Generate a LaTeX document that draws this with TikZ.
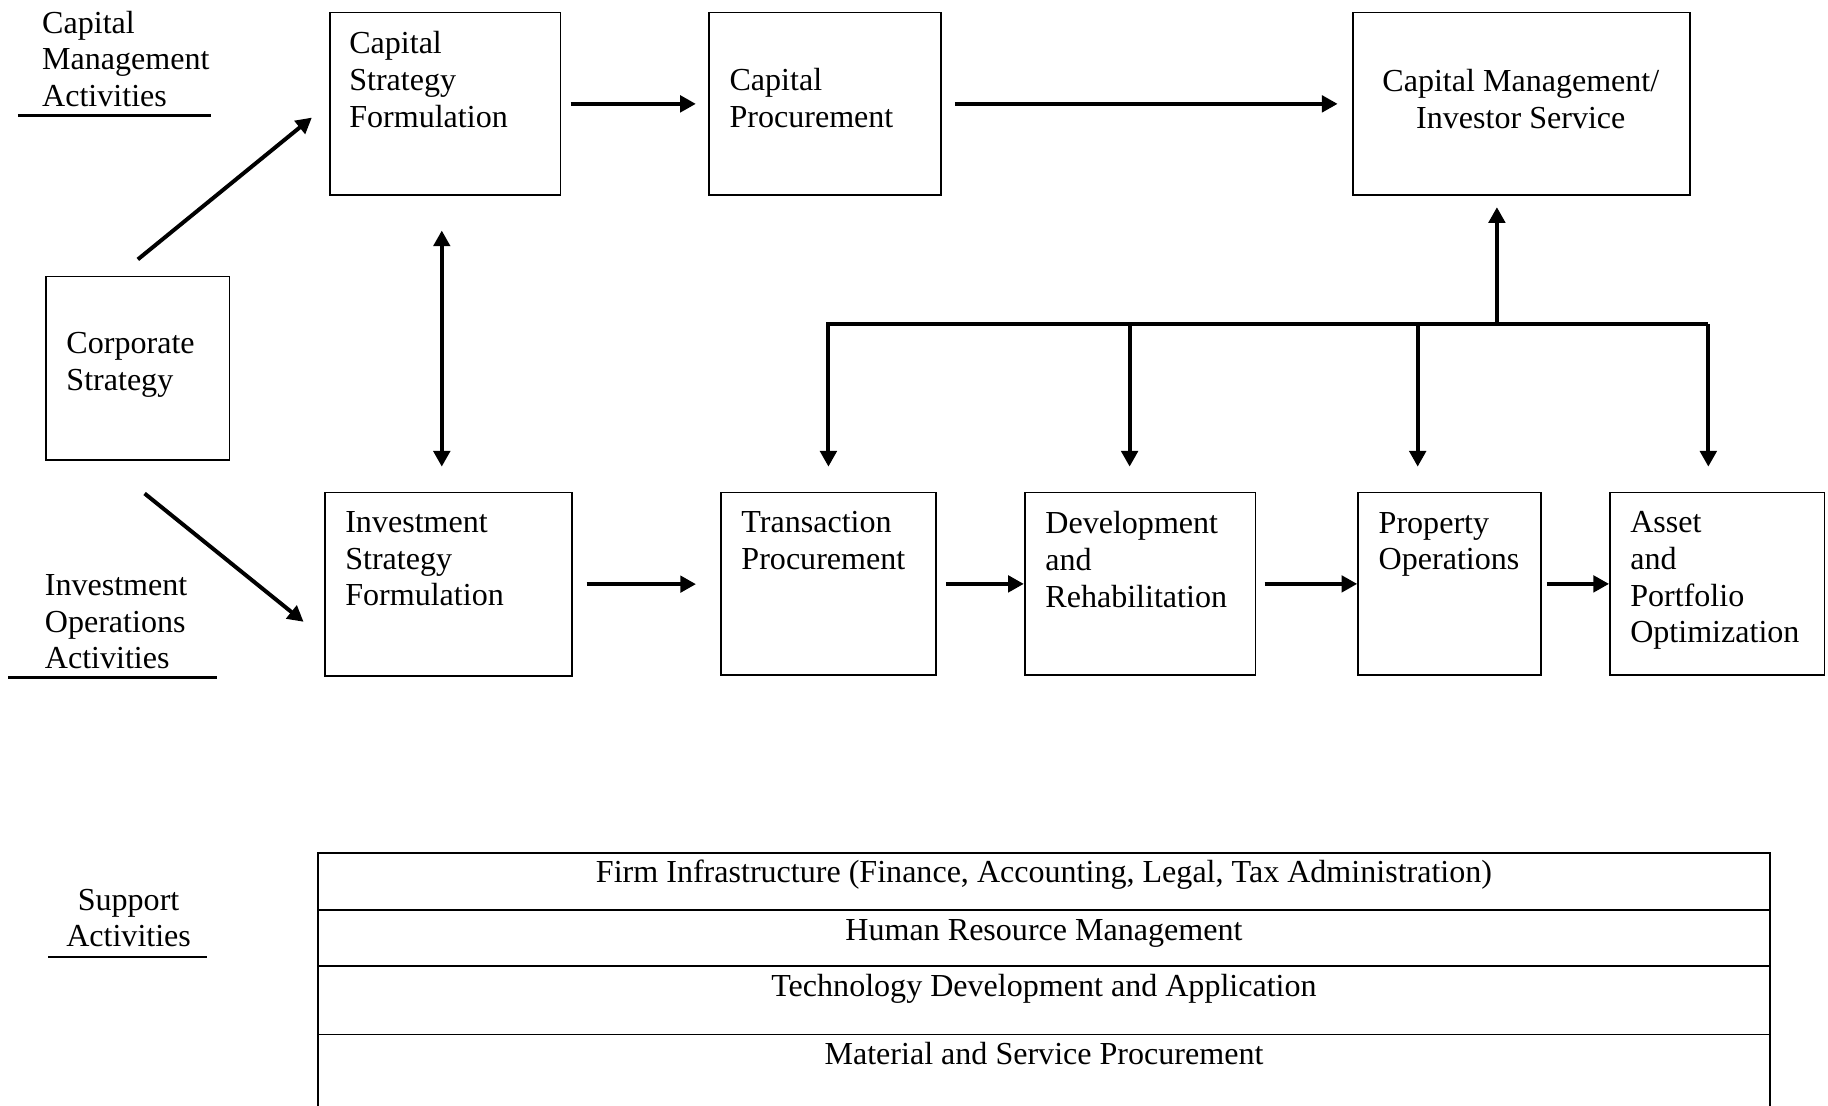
\documentclass[tikz,border=0pt]{standalone}
\usepackage{fontspec}
\setmainfont{Liberation Serif}
\usetikzlibrary{arrows.meta}
\begin{document}
\begin{tikzpicture}[x=1pt,y=-1pt,
  every node/.style={font=\fontsize{27.5}{31.5}\selectfont},
  box/.style={draw, line width=1.5pt, inner sep=0pt, anchor=north west},
  txt/.style={inner sep=0pt, align=left, anchor=north west, yshift=-2.5pt,
              execute at begin node={\rule{0pt}{20pt}}},
  ctxt/.style={txt, align=center, anchor=north},
  row/.style={draw, line width=1.7pt, inner sep=0pt, anchor=north west,
              minimum width=1244.7pt, text height=25.5pt},
  flow/.style={line width=3.4pt, -{Triangle[length=13.5pt,width=14pt]}},
  dflow/.style={line width=3.4pt,
              {Triangle[length=13.5pt,width=14pt]}-{Triangle[length=13.5pt,width=14pt]}},
  rulebar/.style={line width=2.2pt}]

% page frame
\useasboundingbox (0,0) rectangle (1568,948);
\fill[white] (0,0) rectangle (1568,948);
\clip (0,0) rectangle (1568,948);

% section captions
\node[txt] (capcap) at (36,6.6) {Capital\\Management\\Activities};
\draw[rulebar] (15.4,99.2) -- (181.2,99.2);
\node[txt] (invcap) at (38.3,490) {Investment\\Operations\\Activities};
\draw[rulebar] (6.9,581.3) -- (186.5,581.3);
\node[ctxt] (supcap) at (110.3,759.7) {Support\\Activities};
\draw[rulebar] (41.4,821) -- (177.7,821);

% capital management row
\node[box, minimum width=198pt, minimum height=156.7pt] (csf) at (282,10) {};
\node[txt] (csf-t) at (299.4,24.3) {Capital\\Strategy\\Formulation};
\node[box, minimum width=198.6pt, minimum height=156.7pt] (cp) at (607.7,10) {};
\node[txt] (cp-t) at (625.6,55.8) {Capital\\Procurement};
\node[box, minimum width=289pt, minimum height=156.7pt] (cmis) at (1160,10) {};
\node[ctxt] (cmis-t) at (1304.5,56.6) {Capital Management/\\Investor Service};

% corporate strategy
\node[box, minimum width=157pt, minimum height=157.2pt] (corp) at (39,236.5) {};
\node[txt] (corp-t) at (56.8,282.5) {Corporate\\Strategy};

% investment operations row
\node[box, minimum width=212pt, minimum height=157pt] (isf) at (278,421.8) {};
\node[txt] (isf-t) at (296,436) {Investment\\Strategy\\Formulation};
\node[box, minimum width=184.1pt, minimum height=156.6pt] (tp) at (617.8,421.8) {};
\node[txt] (tp-t) at (635.8,436) {Transaction\\Procurement};
\node[box, minimum width=198pt, minimum height=156.6pt] (dr) at (878.2,421.8) {};
\node[txt] (dr-t) at (896.5,436) {Development\\and\\Rehabilitation};
\node[box, minimum width=156.8pt, minimum height=156.6pt] (po) at (1164.2,421.8) {};
\node[txt] (po-t) at (1182.4,436.5) {Property\\Operations};
\node[box, minimum width=184pt, minimum height=156.6pt] (apo) at (1380.2,421.8) {};
\node[txt] (apo-t) at (1398.2,436) {Asset\\and\\Portfolio\\Optimization};

% support activities
\node[row, text depth=24pt] (r1) at (272.3,730.5)
  {Firm Infrastructure (Finance, Accounting, Legal, Tax Administration)};
\node[row, text depth=22.5pt] (r2) at (272.3,780) {Human Resource Management};
\node[row, text depth=33pt] (r3) at (272.3,828) {Technology Development and Application};
\node[row, text depth=70pt] (r4) at (272.3,886.5) {Material and Service Procurement};

% connectors from corporate strategy
\draw[flow] ([shift={(0,-14)}]corp.north) -- ([shift={(-14.5,11.75)}]csf.west);
\draw[flow] ([shift={(5.8,28.1)}]corp.south) -- ([shift={(-17.6,32.3)}]isf.west);
\draw[dflow] ([shift={(-2.8,29.5)}]csf.south) -- ([shift={(-5.8,-21.5)}]isf.north);

% capital flow
\draw[flow, shorten <=7.9pt, shorten >=10.8pt] (csf.east) -- (csf.east -| cp.west);
\draw[flow, shorten <=11.3pt, shorten >=12.6pt] (cp.east) -- (cp.east -| cmis.west);

% investment flow
\draw[flow, shorten <=11.6pt, shorten >=20.8pt] (isf.east) -- (isf.east -| tp.west);
\draw[flow, shorten <=8pt] (tp.east) -- (tp.east -| dr.west);
\draw[flow, shorten <=7pt] (dr.east) -- (dr.east -| po.west);
\draw[flow, shorten <=4.3pt] (po.east) -- (po.east -| apo.west);

% distribution bus
\coordinate (hub) at (1284,277.8);
\path ([xshift=-9pt]dr.north) coordinate (drN)
      ([xshift=-27.3pt]po.north) coordinate (poN)
      ([xshift=-7.6pt]apo.north) coordinate (apoN);
\draw[flow, shorten >=9.5pt] (hub) -- (hub |- cmis.south);
\draw[flow, shorten >=21.5pt] (apoN |- hub) -- (tp.north |- hub) -- (tp.north);
\draw[flow, shorten >=21.5pt] (drN |- hub) -- (drN);
\draw[flow, shorten >=21.5pt] (poN |- hub) -- (poN);
\draw[flow, shorten >=21.5pt] (apoN |- hub) -- (apoN);
\end{tikzpicture}
\end{document}
